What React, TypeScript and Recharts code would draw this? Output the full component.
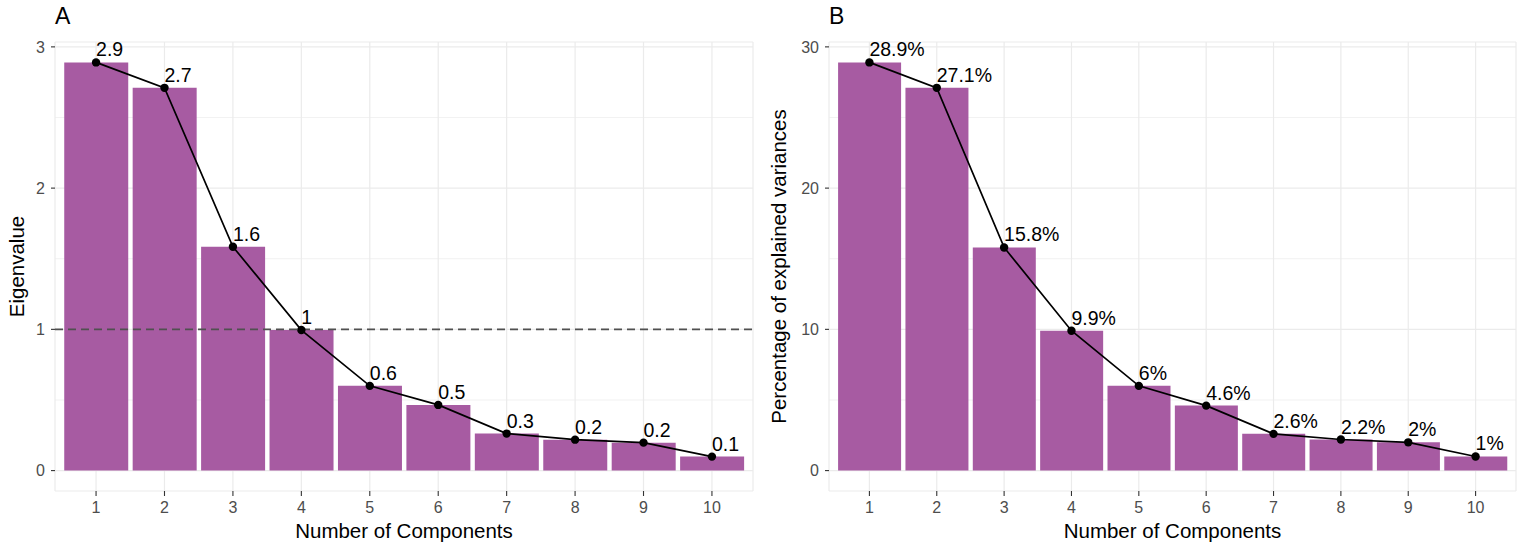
import {
  ComposedChart,
  Bar,
  Line,
  XAxis,
  YAxis,
  CartesianGrid,
  ReferenceLine,
  Label,
} from "recharts";

const FONT = "'Liberation Sans', Arial, Helvetica, sans-serif";
const BAR_FILL = "#A75BA2";
const GRID = "#EBEBEB";

// scree data
const components = [1, 2, 3, 4, 5, 6, 7, 8, 9, 10];
const eigenvalues = [2.89, 2.71, 1.585, 0.995, 0.6, 0.465, 0.262, 0.219, 0.198, 0.099];
const eigenLabels = ["2.9", "2.7", "1.6", "1", "0.6", "0.5", "0.3", "0.2", "0.2", "0.1"];
const variancePct = [28.9, 27.1, 15.8, 9.9, 6.0, 4.6, 2.6, 2.2, 2.0, 1.0];
const varianceLabels = ["28.9%", "27.1%", "15.8%", "9.9%", "6%", "4.6%", "2.6%", "2.2%", "2%", "1%"];

const eigenTicks = [0, 1, 2, 3];
const eigenMinor = [0.5, 1.5, 2.5];
const varianceTicks = [0, 10, 20, 30];
const varianceMinor = [5, 15, 25];

const eigenData = components.map((c, i) => ({
  comp: c,
  value: eigenvalues[i],
  label: eigenLabels[i],
}));
const varianceData = components.map((c, i) => ({
  comp: c,
  value: variancePct[i],
  label: varianceLabels[i],
}));

function PointWithLabel(props: any) {
  const { cx, cy, payload, index } = props;
  if (cx == null || cy == null) return <g key={`pt-${index}`} />;
  return (
    <g key={`pt-${index}`}>
      <circle cx={cx} cy={cy} r={4.2} fill="#000" />
      <text x={cx} y={cy - 6} fontSize={19.5} fontFamily={FONT} fill="#000">
        {payload.label}
      </text>
    </g>
  );
}

interface PanelProps {
  data: { comp: number; value: number; label: string }[];
  domain: [number, number];
  ticks: number[];
  minor: number[];
  yTitle: string;
  tag: string;
  left: number;
  width: number;
  axisWidth: number;
  rightGap: number;
  cutoff?: number;
}

function ScreePanel({
  data,
  domain,
  ticks,
  minor,
  yTitle,
  tag,
  left,
  width,
  axisWidth,
  rightGap,
  cutoff,
}: PanelProps) {
  const tickStyle = { fontSize: 16, fill: "#4D4D4D", fontFamily: FONT };
  return (
    <div style={{ position: "absolute", left, top: 0, width, height: 548 }}>
      <div
        style={{
          position: "absolute",
          left: axisWidth,
          top: 5,
          fontSize: 23,
          lineHeight: "23px",
          fontFamily: FONT,
          color: "#000",
        }}
      >
        {tag}
      </div>
      <ComposedChart
        width={width}
        height={548}
        data={data}
        barCategoryGap="3.5%"
        margin={{ top: 42, right: rightGap, bottom: 0, left: 0 }}
      >
        <CartesianGrid
          horizontalValues={minor}
          vertical={false}
          stroke={GRID}
          strokeWidth={0.7}
        />
        <CartesianGrid stroke={GRID} strokeWidth={1.2} />
        <XAxis
          type="number"
          dataKey="comp"
          domain={[0.4, 10.6]}
          allowDataOverflow
          ticks={components}
          interval={0}
          height={57}
          axisLine={false}
          tickSize={5}
          tickMargin={6}
          tickLine={{ stroke: "#333", strokeWidth: 1.1 }}
          tick={tickStyle}
        >
          <Label
            value="Number of Components"
            position="insideBottom"
            offset={10}
            fill="#000"
            fontSize={20.5}
            fontFamily={FONT}
          />
        </XAxis>
        <YAxis
          type="number"
          domain={domain}
          allowDataOverflow
          ticks={ticks}
          interval={0}
          width={axisWidth}
          axisLine={false}
          tickSize={4}
          tickMargin={6}
          tickLine={{ stroke: "#333", strokeWidth: 1.1 }}
          tick={tickStyle}
        >
          <Label
            value={yTitle}
            angle={-90}
            position="insideLeft"
            offset={17}
            fill="#000"
            fontSize={20.5}
            fontFamily={FONT}
            style={{ textAnchor: "middle" }}
          />
        </YAxis>
        <Bar dataKey="value" fill={BAR_FILL} isAnimationActive={false} />
        {cutoff !== undefined && (
          <ReferenceLine
            y={cutoff}
            stroke="#505050"
            strokeWidth={1.7}
            strokeDasharray="8 5"
          />
        )}
        <Line
          dataKey="value"
          stroke="#000"
          strokeWidth={1.7}
          dot={PointWithLabel}
          activeDot={false}
          isAnimationActive={false}
        />
      </ComposedChart>
    </div>
  );
}

export default function App() {
  return (
    <div
      style={{
        position: "absolute",
        left: 0,
        top: 0,
        width: 1518,
        height: 548,
        background: "#fff",
        overflow: "hidden",
      }}
    >
      <ScreePanel
        data={eigenData}
        domain={[-0.1445, 3.0345]}
        ticks={eigenTicks}
        minor={eigenMinor}
        yTitle="Eigenvalue"
        tag="A"
        left={0}
        width={762}
        axisWidth={55}
        rightGap={9}
        cutoff={1}
      />
      <ScreePanel
        data={varianceData}
        domain={[-1.445, 30.345]}
        ticks={varianceTicks}
        minor={varianceMinor}
        yTitle="Percentage of explained variances"
        tag="B"
        left={762}
        width={756}
        axisWidth={67}
        rightGap={2}
      />
    </div>
  );
}
